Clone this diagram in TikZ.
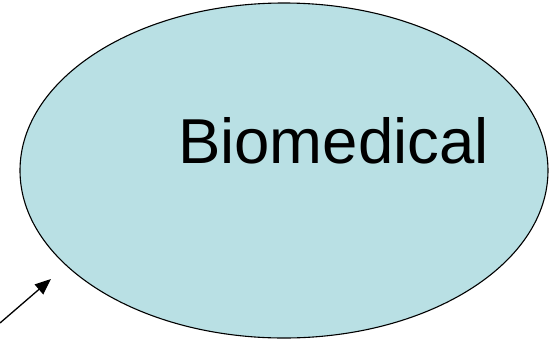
\documentclass[tikz,border=0pt]{standalone}
\usepackage{fontspec}
\setmainfont{Liberation Sans}
\usetikzlibrary{shapes.geometric,arrows.meta}
\definecolor{celeste}{RGB}{185,224,228}
\begin{document}
\begin{tikzpicture}[x=1pt, y=-1pt]
        \useasboundingbox (0,0) rectangle (558,341);
        % Elipse
        \node[ellipse, draw, fill=celeste, line width=1.1pt, inner sep=0pt,
              minimum width=528pt, minimum height=335pt] (bio) at (284,170.5) {};
        % Texto
        \node[anchor=base west, inner sep=0pt, font=\fontsize{63.5}{76}\selectfont] (etiqueta) at (178,163) {Biomedical};
        % Flecha
        \coordinate (origen) at (0,323);
        \coordinate (punta) at (51,279);
        \draw[-{Triangle[length=16pt, width=13pt]}, line width=1.3pt] (origen) -- (punta);
    \end{tikzpicture}
\end{document}
